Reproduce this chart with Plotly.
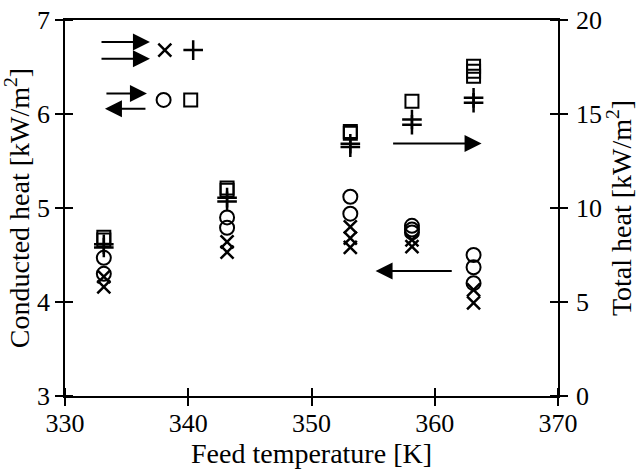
import plotly.graph_objects as go

# ---------------- data ----------------
# Conducted heat [kW/m2] (left axis)
cond_par_T = [333.15, 333.15, 343.15, 343.15, 353.15, 353.15, 353.15, 358.15, 358.15, 363.15, 363.15]
cond_par_Q = [4.27, 4.16, 4.64, 4.53, 4.80, 4.68, 4.58, 4.66, 4.59, 4.13, 3.99]

cond_cnt_T = [333.15, 333.15, 343.15, 343.15, 353.15, 353.15, 358.15, 358.15, 358.15, 363.15, 363.15, 363.15]
cond_cnt_Q = [4.47, 4.30, 4.90, 4.79, 5.12, 4.94, 4.81, 4.77, 4.74, 4.50, 4.37, 4.20]

# Total heat [kW/m2] (right axis)
tot_par_T = [333.15, 333.15, 343.15, 343.15, 353.15, 353.15, 358.15, 358.15, 363.15, 363.15]
tot_par_Q = [8.07, 7.90, 10.55, 10.35, 13.42, 13.24, 14.71, 14.43, 15.86, 15.60]

tot_cnt_T = [333.15, 333.15, 343.15, 343.15, 353.15, 353.15, 358.15, 363.15, 363.15, 363.15]
tot_cnt_Q = [8.45, 8.30, 11.06, 10.94, 14.07, 13.98, 15.68, 17.54, 17.27, 17.01]

x_ticks = [330, 340, 350, 360, 370]
yl_ticks = [3, 4, 5, 6, 7]
yr_ticks = [0, 5, 10, 15, 20]

# legend key positions (in axis units) and arrows
key_T = {"x": 338.1, "+": 340.4, "o": 338.0, "s": 340.2}
key_row = {"parallel": 6.68, "counter": 6.15}

FONT = "Liberation Serif"
BLACK = "black"
TICK_SIZE = 26
TITLE_SIZE = 28

fig = go.Figure()

def add(xs, ys, symbol, size, yaxis="y", lw=2.2):
    fig.add_trace(go.Scatter(
        x=xs, y=ys, mode="markers", yaxis=yaxis, showlegend=False,
        hoverinfo="skip",
        marker=dict(symbol=symbol, size=size, color=BLACK,
                    line=dict(color=BLACK, width=lw))))

add(cond_par_T, cond_par_Q, "x-thin-open", 13, lw=2.5)
add(cond_cnt_T, cond_cnt_Q, "circle-open", 14, lw=2)
add(tot_par_T, tot_par_Q, "cross-thin-open", 14, yaxis="y2", lw=2.5)
add(tot_cnt_T, tot_cnt_Q, "square-open", 13, yaxis="y2", lw=2)

# legend keys
add([key_T["x"]], [key_row["parallel"]], "x-thin-open", 13, lw=2.5)
add([key_T["+"]], [key_row["parallel"]], "cross-thin-open", 14, lw=2.5)
add([key_T["o"]], [key_row["counter"]], "circle-open", 14, lw=2)
add([key_T["s"]], [key_row["counter"]], "square-open", 13, lw=2)

arrows = [
    # (tail_x, tail_y, head_x, head_y)
    (332.84, 6.765, 336.89, 6.765),
    (332.84, 6.589, 336.89, 6.589),
    (333.24, 6.217, 336.65, 6.217),
    (336.65, 6.057, 333.24, 6.057),
    (356.5, 5.685, 363.8, 5.685),
    (361.5, 4.33, 355.2, 4.33),
]
for ax_, ay_, hx, hy in arrows:
    fig.add_annotation(x=hx, y=hy, ax=ax_, ay=ay_, xref="x", yref="y",
                       axref="x", ayref="y", showarrow=True, text="",
                       arrowhead=2, arrowsize=1.7, arrowwidth=2,
                       arrowcolor=BLACK, standoff=0, startstandoff=0)

axis_common = dict(
    showline=True, linecolor=BLACK, linewidth=1.5,
    ticks="outside", ticklen=8, tickwidth=1.5, tickcolor=BLACK,
    showgrid=False, zeroline=False,
    tickfont=dict(family=FONT, size=TICK_SIZE, color=BLACK),
)

fig.update_layout(
    width=638, height=473,
    margin=dict(l=65, r=80, t=20, b=77),
    paper_bgcolor="white", plot_bgcolor="white",
    template="none",
    font=dict(family=FONT, size=TICK_SIZE, color=BLACK),
    xaxis=dict(range=[330, 370], tickvals=x_ticks, mirror=True,
               ticklabelstandoff=-5,
               title=dict(text="Feed temperature [K]", standoff=6,
                          font=dict(family=FONT, size=TITLE_SIZE, color=BLACK)),
               minor=dict(ticks="inside", ticklen=8, tickwidth=1.5,
                          tickcolor=BLACK, tickvals=x_ticks, showgrid=False),
               **axis_common),
    yaxis=dict(range=[3, 7], tickvals=yl_ticks,
               title=dict(text="Conducted heat [kW/m<sup>2</sup>]", standoff=2,
                          font=dict(family=FONT, size=TITLE_SIZE, color=BLACK)),
               minor=dict(ticks="inside", ticklen=8, tickwidth=1.5,
                          tickcolor=BLACK, tickvals=yl_ticks, showgrid=False),
               **axis_common),
    yaxis2=dict(range=[0, 20], tickvals=yr_ticks, overlaying="y", side="right",
                ticklabelstandoff=3,
                title=dict(text="Total heat [kW/m<sup>2</sup>]", standoff=2,
                           font=dict(family=FONT, size=TITLE_SIZE, color=BLACK)),
                minor=dict(ticks="inside", ticklen=8, tickwidth=1.5,
                           tickcolor=BLACK, tickvals=yr_ticks, showgrid=False),
                **axis_common),
)

fig.write_html("out.html")
